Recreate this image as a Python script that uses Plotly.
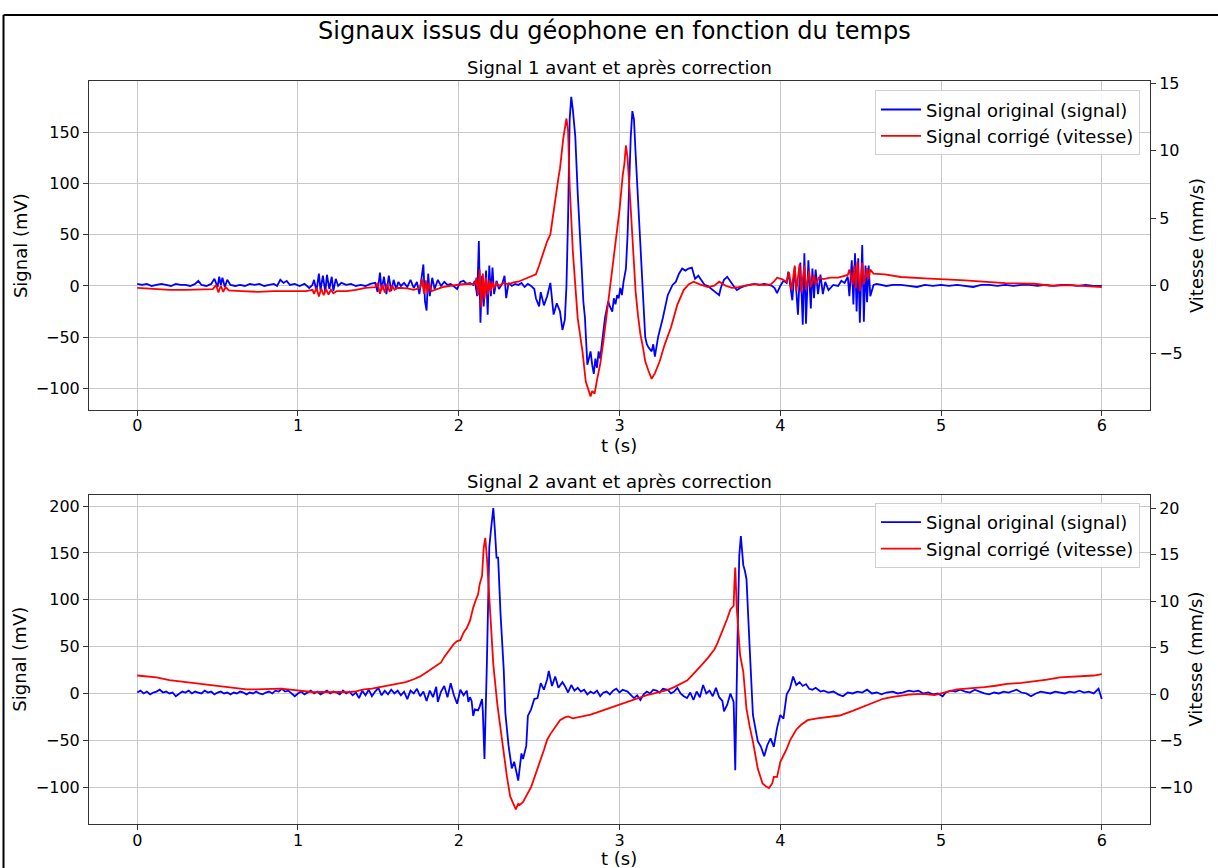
import plotly.graph_objects as go

# ---------------- Signal 1 ----------------
T_S1_SIGNAL = [
    0.00, 0.03, 0.06, 0.09, 0.12, 0.15, 0.18, 0.21, 0.24, 0.27,
    0.30, 0.33, 0.36, 0.38, 0.40, 0.43, 0.46, 0.48, 0.50, 0.51,
    0.52, 0.53, 0.545, 0.56, 0.58, 0.61, 0.64, 0.67, 0.70, 0.73,
    0.76, 0.79, 0.82, 0.85, 0.87, 0.89, 0.91, 0.93, 0.95, 0.98,
    1.01, 1.04, 1.07, 1.09, 1.10, 1.115, 1.13, 1.14, 1.155, 1.17,
    1.18, 1.195, 1.21, 1.22, 1.235, 1.25, 1.27, 1.30, 1.33, 1.36,
    1.39, 1.42, 1.45, 1.48, 1.495, 1.51, 1.52, 1.535, 1.55, 1.565,
    1.58, 1.595, 1.61, 1.625, 1.64, 1.66, 1.68, 1.70, 1.72, 1.74,
    1.755, 1.77, 1.78, 1.79, 1.80, 1.81, 1.82, 1.835, 1.85, 1.87,
    1.89, 1.91, 1.93, 1.95, 1.97, 1.99, 2.01, 2.03, 2.05, 2.07,
    2.09, 2.10, 2.115, 2.125, 2.135, 2.145, 2.155, 2.17, 2.18, 2.19,
    2.20, 2.21, 2.22, 2.235, 2.25, 2.27, 2.285, 2.295, 2.31, 2.33,
    2.35, 2.37, 2.39, 2.41, 2.43, 2.45, 2.47, 2.48, 2.50, 2.51,
    2.53, 2.55, 2.57, 2.59, 2.61, 2.63, 2.645, 2.66, 2.67, 2.68,
    2.69, 2.70, 2.71, 2.725, 2.74, 2.75, 2.765, 2.775, 2.785, 2.80,
    2.81, 2.82, 2.83, 2.84, 2.85, 2.86, 2.87, 2.88, 2.89, 2.91,
    2.93, 2.94, 2.955, 2.965, 2.975, 2.985, 2.995, 3.005, 3.015, 3.025,
    3.04, 3.05, 3.06, 3.07, 3.08, 3.09, 3.10, 3.11, 3.12, 3.135,
    3.14, 3.15, 3.16, 3.17, 3.18, 3.20, 3.21, 3.22, 3.23, 3.24,
    3.27, 3.29, 3.30, 3.33, 3.35, 3.37, 3.39, 3.41, 3.43, 3.45,
    3.46, 3.47, 3.49, 3.51, 3.53, 3.55, 3.58, 3.60, 3.62, 3.63,
    3.65, 3.67, 3.69, 3.71, 3.73, 3.75, 3.78, 3.81, 3.84, 3.87,
    3.90, 3.93, 3.95, 3.965, 3.98, 4.00, 4.02, 4.04, 4.05, 4.075,
    4.09, 4.11, 4.125, 4.14, 4.15, 4.16, 4.175, 4.19, 4.20, 4.21,
    4.22, 4.235, 4.25, 4.265, 4.28, 4.30, 4.33, 4.36, 4.38, 4.40,
    4.42, 4.43, 4.445, 4.455, 4.465, 4.475, 4.485, 4.495, 4.51, 4.52,
    4.53, 4.54, 4.55, 4.56, 4.58, 4.60, 4.63, 4.66, 4.70, 4.75,
    4.80, 4.85, 4.90, 4.95, 5.00, 5.05, 5.10, 5.15, 5.20, 5.25,
    5.30, 5.35, 5.40, 5.45, 5.50, 5.55, 5.60, 5.65, 5.70, 5.75,
    5.80, 5.85, 5.90, 5.95, 6.00,
]
S1_SIGNAL = [
    2, 1, 2, 0, 1, 2, 1, 0, 2, 1,
    1, 0, 2, 5, 1, 0, 2, 7, -1, 9,
    1, 8, -1, 6, 1, 0, 1, 0, 2, 1,
    2, 0, 1, 2, 0, 6, 3, 5, 1, 2,
    0, 2, -2, 1, 6, -5, 12, -4, 10, -6,
    11, -3, 9, -5, 7, 0, 3, 1, 2, 0,
    1, 0, 2, 3, -6, 13, -4, 9, -8, 10,
    -5, 6, -3, 4, 0, 3, -1, 6, -2, 4,
    -8, 10, 21, -15, -24, 12, -10, 8, -3, 6,
    0, 4, 1, 2, -1, -3, 4, 5, 2, 3,
    1, 5, -10, 44, -36, 10, -20, 15, -28, 20,
    -10, 18, -8, 5, -3, 2, 10, -12, 3, 0,
    2, 1, 3, -1, 2, 0, -3, -12, -20, -6,
    -19, -10, 3, -28, -17, -25, -43, -33, 0, 66,
    163, 185, 172, 146, 91, 66, 17, -15, -31, -77,
    -71, -64, -77, -86, -71, -80, -64, -71, -57, -31,
    -15, -20, -25, -12, -18, -9, -12, -2, -9, 4,
    17, 49, 98, 146, 171, 163, 130, 98, 72, 20,
    1, -31, -50, -57, -60, -64, -57, -69, -60, -50,
    -31, -18, -9, 1, 4, 12, 17, 15, 17, 18,
    12, 7, 10, 5, 1, 0, -4, -7, -9, -2,
    6, 9, 4, 0, -4, -2, 0, 1, 2, 1,
    2, 1, 0, -2, -7, 0, 5, 3, 14, -14,
    18, -28, 23, -38, 32, -37, 25, -22, 17, -12,
    16, -8, 11, -8, 4, -4, 1, 0, 5, 3,
    9, -10, 25, -18, 32, -25, 27, -36, 40, -35,
    20, -16, 20, -10, 1, 2, 1, 0, 1, 1,
    0, -1, 1, 0, 1, 0, 1, 0, -1, 1,
    1, 0, 1, 0, 1, 1, 0, 1, 0, 1,
    1, 0, 1, 0, 0,
]

T_S1_VITESSE = [
    0.00, 0.10, 0.20, 0.30, 0.40, 0.47, 0.49, 0.505, 0.52, 0.535,
    0.55, 0.57, 0.65, 0.75, 0.85, 0.95, 1.05, 1.09, 1.10, 1.115,
    1.13, 1.145, 1.16, 1.175, 1.19, 1.205, 1.22, 1.24, 1.30, 1.36,
    1.42, 1.48, 1.495, 1.51, 1.525, 1.54, 1.555, 1.57, 1.585, 1.60,
    1.62, 1.68, 1.72, 1.76, 1.77, 1.785, 1.795, 1.805, 1.815, 1.83,
    1.85, 1.90, 1.95, 2.00, 2.05, 2.10, 2.11, 2.12, 2.13, 2.14,
    2.15, 2.16, 2.17, 2.18, 2.19, 2.20, 2.21, 2.22, 2.235, 2.25,
    2.28, 2.31, 2.34, 2.37, 2.40, 2.43, 2.46, 2.48, 2.50, 2.53,
    2.55, 2.57, 2.59, 2.60, 2.62, 2.63, 2.65, 2.67, 2.68, 2.69,
    2.71, 2.74, 2.77, 2.79, 2.81, 2.82, 2.83, 2.845, 2.86, 2.88,
    2.90, 2.92, 2.94, 2.965, 2.99, 3.00, 3.02, 3.03, 3.04, 3.05,
    3.07, 3.085, 3.10, 3.115, 3.13, 3.145, 3.16, 3.18, 3.20, 3.22,
    3.25, 3.28, 3.32, 3.36, 3.40, 3.43, 3.46, 3.50, 3.55, 3.59,
    3.62, 3.66, 3.70, 3.74, 3.78, 3.82, 3.86, 3.90, 3.94, 3.96,
    3.98, 4.01, 4.04, 4.055, 4.07, 4.09, 4.10, 4.12, 4.13, 4.15,
    4.16, 4.18, 4.19, 4.21, 4.22, 4.24, 4.27, 4.31, 4.36, 4.42,
    4.43, 4.45, 4.46, 4.47, 4.48, 4.495, 4.51, 4.52, 4.54, 4.55,
    4.56, 4.58, 4.65, 4.75, 4.90, 5.02, 5.15, 5.26, 5.40, 5.58,
    5.68, 5.80, 5.90, 6.00,
]
S1_VITESSE = [
    -0.15, -0.25, -0.3, -0.3, -0.3, -0.25, 0.05, -0.5, 0.0, -0.45,
    -0.1, -0.35, -0.4, -0.45, -0.4, -0.4, -0.4, -0.3, -0.6, -0.15,
    -0.8, -0.2, -0.7, -0.25, -0.65, -0.3, -0.55, -0.4, -0.4, -0.3,
    -0.15, -0.1, 0.2, -0.6, 0.1, -0.5, 0.15, -0.45, 0.0, -0.3,
    -0.15, -0.2, -0.3, -0.15, 0.5, -0.6, 0.4, -0.55, 0.2, -0.4,
    -0.3, -0.1, 0.0, 0.1, 0.15, 0.1, 0.6, -0.7, 1.2, -1.6,
    0.9, -1.0, 0.6, -0.7, 0.4, -0.4, 0.3, -0.2, 0.2, 0.0,
    0.2, 0.1, 0.25, 0.3, 0.45, 0.6, 0.7, 0.85, 1.5, 2.5,
    3.3, 3.8, 5.5, 6.7, 8.0, 8.7, 10.9, 12.4, 11.5, 7.4,
    2.5, -2.4, -4.9, -7.1, -7.8, -8.2, -7.8, -8.0, -7.0, -5.8,
    -4.1, -2.2, -0.15, 2.3, 4.5, 5.6, 8.2, 9.0, 10.4, 9.5,
    5.7, 2.5, -0.4, -2.2, -3.6, -4.5, -5.6, -6.3, -6.9, -6.5,
    -5.6, -4.4, -3.1, -1.4, -0.3, 0.1, 0.3, 0.1, -0.1, 0.0,
    0.3, 0.0, -0.15, -0.1, 0.0, 0.1, 0.1, 0.05, 0.1, 0.3,
    0.6, 0.5, 0.3, 1.0, -0.3, 1.5, -0.4, 1.6, -0.5, 1.5,
    -0.3, 1.1, -0.1, 0.8, 0.1, 0.6, 0.5, 0.6, 0.6, 0.8,
    1.2, 0.1, 1.5, -0.2, 1.8, -0.4, 1.7, 0.1, 1.3, 0.5,
    1.2, 0.9, 0.85, 0.65, 0.55, 0.5, 0.4, 0.3, 0.2, 0.15,
    0.0, 0.05, -0.05, -0.1,
]

# ---------------- Signal 2 ----------------
T_S2_SIGNAL = [
    0.00, 0.02, 0.04, 0.06, 0.08, 0.10, 0.12, 0.14, 0.16, 0.18,
    0.20, 0.22, 0.24, 0.26, 0.28, 0.30, 0.32, 0.34, 0.36, 0.38,
    0.40, 0.42, 0.44, 0.46, 0.48, 0.50, 0.52, 0.54, 0.56, 0.58,
    0.60, 0.62, 0.64, 0.66, 0.68, 0.70, 0.72, 0.74, 0.76, 0.78,
    0.80, 0.82, 0.84, 0.86, 0.88, 0.90, 0.92, 0.94, 0.96, 0.98,
    1.00, 1.02, 1.04, 1.06, 1.08, 1.10, 1.12, 1.14, 1.16, 1.18,
    1.20, 1.22, 1.24, 1.26, 1.28, 1.30, 1.32, 1.34, 1.36, 1.38,
    1.40, 1.42, 1.44, 1.46, 1.48, 1.50, 1.52, 1.54, 1.56, 1.58,
    1.60, 1.62, 1.64, 1.66, 1.68, 1.70, 1.72, 1.74, 1.76, 1.78,
    1.80, 1.82, 1.84, 1.86, 1.87, 1.89, 1.91, 1.93, 1.95, 1.97,
    1.99, 2.01, 2.03, 2.05, 2.06, 2.07, 2.08, 2.09, 2.10, 2.12,
    2.13, 2.145, 2.15, 2.16, 2.175, 2.19, 2.20, 2.215, 2.225, 2.235,
    2.245, 2.26, 2.28, 2.29, 2.31, 2.32, 2.33, 2.345, 2.36, 2.37,
    2.39, 2.40, 2.42, 2.43, 2.45, 2.47, 2.49, 2.51, 2.53, 2.55,
    2.56, 2.58, 2.60, 2.62, 2.645, 2.66, 2.68, 2.70, 2.72, 2.74,
    2.76, 2.78, 2.80, 2.82, 2.84, 2.86, 2.88, 2.90, 2.92, 2.94,
    2.96, 2.98, 3.00, 3.02, 3.05, 3.07, 3.09, 3.11, 3.13, 3.15,
    3.17, 3.19, 3.21, 3.23, 3.25, 3.27, 3.30, 3.32, 3.34, 3.36,
    3.38, 3.40, 3.42, 3.44, 3.46, 3.48, 3.50, 3.52, 3.54, 3.56,
    3.58, 3.60, 3.62, 3.64, 3.65, 3.67, 3.69, 3.71, 3.72, 3.735,
    3.745, 3.755, 3.77, 3.78, 3.79, 3.81, 3.83, 3.86, 3.88, 3.90,
    3.92, 3.94, 3.96, 3.98, 4.00, 4.02, 4.04, 4.06, 4.08, 4.10,
    4.12, 4.14, 4.16, 4.18, 4.20, 4.22, 4.25, 4.27, 4.30, 4.33,
    4.36, 4.39, 4.42, 4.45, 4.48, 4.51, 4.54, 4.57, 4.60, 4.63,
    4.66, 4.70, 4.73, 4.76, 4.80, 4.83, 4.86, 4.89, 4.92, 4.95,
    4.98, 5.01, 5.03, 5.06, 5.09, 5.12, 5.15, 5.18, 5.21, 5.24,
    5.27, 5.30, 5.33, 5.36, 5.39, 5.42, 5.45, 5.47, 5.50, 5.53,
    5.56, 5.59, 5.62, 5.65, 5.68, 5.71, 5.74, 5.77, 5.80, 5.83,
    5.86, 5.89, 5.92, 5.95, 5.98, 6.00,
]
S2_SIGNAL = [
    1, 3, 0, 2, -1, 1, 2, 4, 1, 2,
    0, 1, -3, 0, 2, 1, 3, 0, 2, 1,
    0, 3, 1, 2, -1, 1, 2, 0, 1, -1,
    1, 0, 2, 1, -1, 1, 0, 2, 0, -1,
    1, 2, 0, 3, 2, 5, 2, 3, 0, -3,
    0, 2, -1, 1, 3, 0, 2, -1, 1, 3,
    0, 2, 1, -1, 3, 0, 2, -2, 1, -5,
    3, -2, 4, -3, 2, 6, -2, 3, -1, 4,
    0, 3, -2, 2, -6, 3, 0, 5, -3, 2,
    -8, 3, -4, 7, -9, 2, 8, -4, 11, -2,
    -11, 4, -2, 3, -9, -4, -8, -24, -17, -18,
    -14, -6, -20, -70, 32, 156, 174, 198, 174, 145,
    145, 85, 25, -21, -56, -70, -80, -73, -85, -93,
    -64, -70, -56, -24, -17, -6, -5, 11, 4, 15,
    24, 8, 18, 6, 12, 8, 1, 9, 3, 6,
    2, 4, -1, 2, 0, 3, -3, 1, 2, -1,
    3, 5, 1, 4, 2, -2, -5, -2, -7, -1,
    2, 0, 4, 3, 1, 5, 4, 0, 2, 6,
    0, -3, -5, 1, -7, 2, -4, 9, 0, 3,
    -3, 6, -4, -8, -19, -12, 0, -9, -82, 66,
    147, 168, 137, 131, 122, 48, -23, -51, -57, -67,
    -55, -48, -57, -37, -23, -27, -1, 5, 18, 9,
    12, 8, 10, 5, 4, 6, 2, 3, 1, 2,
    -1, -3, 1, 0, 2, 1, 4, 0, 1, -1,
    1, 2, 0, 1, 3, 2, 3, 0, 1, -1,
    0, -3, 1, 3, 2, 4, 2, 1, 4, 2,
    0, -1, 1, 0, 2, 1, 3, 4, 1, 0,
    -3, 0, 2, 1, 0, 2, 1, 0, 2, 1,
    3, 1, 2, 0, 5, -6,
]

T_S2_VITESSE = [
    0.00, 0.06, 0.12, 0.20, 0.27, 0.33, 0.40, 0.47, 0.53, 0.58,
    0.63, 0.68, 0.74, 0.79, 0.84, 0.89, 0.94, 0.99, 1.05, 1.10,
    1.15, 1.20, 1.26, 1.31, 1.36, 1.41, 1.46, 1.51, 1.56, 1.62,
    1.67, 1.72, 1.76, 1.80, 1.83, 1.86, 1.89, 1.91, 1.93, 1.95,
    1.97, 1.99, 2.01, 2.03, 2.05, 2.07, 2.09, 2.11, 2.12, 2.13,
    2.145, 2.155, 2.165, 2.175, 2.185, 2.195, 2.205, 2.215, 2.24, 2.26,
    2.28, 2.30, 2.32, 2.34, 2.355, 2.37, 2.38, 2.40, 2.43, 2.45,
    2.47, 2.49, 2.51, 2.53, 2.55, 2.57, 2.59, 2.61, 2.63, 2.66,
    2.68, 2.71, 2.74, 2.78, 2.82, 2.87, 2.92, 2.96, 3.00, 3.05,
    3.09, 3.13, 3.17, 3.21, 3.25, 3.30, 3.34, 3.38, 3.42, 3.45,
    3.49, 3.52, 3.55, 3.57, 3.59, 3.61, 3.63, 3.65, 3.67, 3.69,
    3.71, 3.715, 3.72, 3.73, 3.75, 3.77, 3.79, 3.81, 3.83, 3.86,
    3.89, 3.91, 3.93, 3.95, 3.96, 3.98, 4.00, 4.02, 4.04, 4.06,
    4.08, 4.10, 4.13, 4.17, 4.23, 4.29, 4.37, 4.45, 4.54, 4.60,
    4.64, 4.70, 4.75, 4.80, 4.85, 4.90, 4.96, 5.02, 5.06, 5.10,
    5.18, 5.27, 5.34, 5.41, 5.50, 5.58, 5.66, 5.74, 5.81, 5.89,
    5.95, 6.00,
]
S2_VITESSE = [
    2.0, 1.9, 1.8, 1.5, 1.35, 1.3, 1.1, 1.0, 0.85, 0.75,
    0.6, 0.5, 0.5, 0.55, 0.6, 0.6, 0.5, 0.4, 0.3, 0.2,
    0.25, 0.2, 0.25, 0.2, 0.3, 0.5, 0.6, 0.75, 0.9, 1.1,
    1.3, 1.6, 1.9, 2.35, 2.7, 3.1, 3.4, 4.0, 4.5, 5.0,
    5.4, 5.7, 5.8, 6.6, 7.1, 7.9, 9.3, 10.3, 10.7, 11.8,
    12.7, 15.7, 16.8, 14.7, 11.5, 8.6, 6.0, 3.2, -1.1, -3.9,
    -6.4, -8.9, -11.0, -11.8, -12.4, -11.8, -11.9, -11.6, -10.7, -10.0,
    -9.0, -8.1, -7.0, -6.0, -4.9, -4.3, -3.8, -3.2, -2.8, -2.5,
    -2.4, -2.6, -2.5, -2.4, -2.2, -1.9, -1.6, -1.4, -1.2, -0.9,
    -0.65, -0.4, -0.1, 0.05, 0.2, 0.45, 0.75, 1.1, 1.45, 2.0,
    2.7, 3.3, 3.9, 4.3, 4.8, 5.5, 6.3, 7.2, 8.1, 9.1,
    9.5, 12.0, 13.6, 9.1, 4.2, 2.4, -1.6, -3.5, -5.1, -8.0,
    -9.6, -9.9, -10.1, -9.6, -8.9, -8.9, -7.3, -6.6, -5.9, -5.0,
    -4.4, -3.8, -3.3, -2.8, -2.6, -2.5, -2.3, -1.8, -1.2, -0.8,
    -0.5, -0.3, -0.15, -0.05, 0.0, 0.0, -0.1, 0.2, 0.35, 0.5,
    0.6, 0.75, 0.9, 1.1, 1.2, 1.35, 1.55, 1.8, 1.85, 1.9,
    2.0, 2.15,
]

X_TICKS = [0, 1, 2, 3, 4, 5, 6]
S1_MV_TICKS = [-100, -50, 0, 50, 100, 150]
S1_VIT_TICKS = [-5, 0, 5, 10, 15]
S2_MV_TICKS = [-100, -50, 0, 50, 100, 150, 200]
S2_VIT_TICKS = [-10, -5, 0, 5, 10, 15, 20]

TITLE = "Signaux issus du géophone en fonction du temps"
SUB1 = "Signal 1 avant et après correction"
SUB2 = "Signal 2 avant et après correction"
LBL_SIG = "Signal original (signal)"
LBL_VIT = "Signal corrigé (vitesse)"

assert len(T_S1_SIGNAL) == len(S1_SIGNAL)
assert len(T_S1_VITESSE) == len(S1_VITESSE)
assert len(T_S2_SIGNAL) == len(S2_SIGNAL)
assert len(T_S2_VITESSE) == len(S2_VITESSE)

W, H = 1218, 868
FONT = "DejaVu Sans"
BLUE = "#0000ff"
RED = "#ff0000"
LW = 1.8

def px(x):
    return x / W

def py(y):
    return 1 - y / H

fig = go.Figure()
fig.add_trace(go.Scatter(x=T_S1_SIGNAL, y=S1_SIGNAL, mode="lines", name=LBL_SIG,
                         line=dict(color=BLUE, width=LW), xaxis="x", yaxis="y", legend="legend"))
fig.add_trace(go.Scatter(x=T_S1_VITESSE, y=S1_VITESSE, mode="lines", name=LBL_VIT,
                         line=dict(color=RED, width=LW), xaxis="x", yaxis="y2", legend="legend"))
fig.add_trace(go.Scatter(x=T_S2_SIGNAL, y=S2_SIGNAL, mode="lines", name=LBL_SIG,
                         line=dict(color=BLUE, width=LW), xaxis="x2", yaxis="y3", legend="legend2"))
fig.add_trace(go.Scatter(x=T_S2_VITESSE, y=S2_VITESSE, mode="lines", name=LBL_VIT,
                         line=dict(color=RED, width=LW), xaxis="x2", yaxis="y4", legend="legend2"))

axis_common = dict(showline=True, linecolor="#333333", linewidth=1, ticks="outside",
                   ticklen=5, tickcolor="#333333", tickfont=dict(size=16, color="black"),
                   zeroline=False)
grid = dict(showgrid=True, gridcolor="#c8c8c8", gridwidth=1)
xdom = [px(89), px(1150)]
top_dom = [py(406), py(75)]
bot_dom = [py(824), py(492)]

fig.update_layout(
    width=W, height=H,
    margin=dict(l=0, r=0, t=0, b=0),
    paper_bgcolor="white", plot_bgcolor="white",
    font=dict(family=FONT, color="black"),
    xaxis=dict(domain=xdom, anchor="y", range=[-0.3, 6.3], tickvals=X_TICKS,
               mirror=True, ticklabelstandoff=-4, **axis_common, **grid),
    yaxis=dict(domain=top_dom, anchor="x", range=[-121, 200], tickvals=S1_MV_TICKS,
               **axis_common, **grid),
    yaxis2=dict(overlaying="y", side="right", anchor="x", range=[-9.19, 15.15],
                tickvals=S1_VIT_TICKS, showgrid=False, **axis_common),
    xaxis2=dict(domain=xdom, anchor="y3", range=[-0.3, 6.3], tickvals=X_TICKS,
                mirror=True, ticklabelstandoff=-4, **axis_common, **grid),
    yaxis3=dict(domain=bot_dom, anchor="x2", range=[-139.8, 211.9], tickvals=S2_MV_TICKS,
                **axis_common, **grid),
    yaxis4=dict(overlaying="y3", side="right", anchor="x2", range=[-14.0, 21.4],
                tickvals=S2_VIT_TICKS, showgrid=False, **axis_common),
    legend=dict(x=px(1140), y=py(84), xanchor="right", yanchor="top",
                bgcolor="rgba(255,255,255,0.85)", bordercolor="#d0d0d0", borderwidth=1,
                font=dict(size=18, family=FONT), itemwidth=40, tracegroupgap=0),
    legend2=dict(x=px(1140), y=py(500), xanchor="right", yanchor="top",
                 bgcolor="rgba(255,255,255,0.85)", bordercolor="#d0d0d0", borderwidth=1,
                 font=dict(size=18, family=FONT), itemwidth=40, tracegroupgap=0),
    showlegend=True,
)

ann = []
def add_text(text, x, y, size, angle=0):
    ann.append(dict(text=text, x=px(x), y=py(y), xref="paper", yref="paper",
                    xanchor="center", yanchor="middle", showarrow=False,
                    textangle=angle, font=dict(size=size, family=FONT, color="black")))

add_text(TITLE, 614, 24, 24)
add_text(SUB1, 619, 61, 18)
add_text(SUB2, 619, 478, 18)
add_text("t (s)", 619, 442, 18)
add_text("t (s)", 619, 858, 18)
add_text("Signal (mV)", 20, 241, 18, -90)
add_text("Signal (mV)", 20, 658, 18, -90)
add_text("Vitesse (mm/s)", 1196, 241, 18, -90)
add_text("Vitesse (mm/s)", 1196, 658, 18, -90)
fig.update_layout(annotations=ann)

fig.update_layout(shapes=[
    dict(type="line", xref="paper", yref="paper", x0=px(3.5), x1=px(3.5), y0=0, y1=py(8),
         line=dict(color="black", width=2)),
    dict(type="line", xref="paper", yref="paper", x0=px(3.5), x1=1, y0=py(8), y1=py(8),
         line=dict(color="black", width=2)),
])

fig.write_html(
    "out.html",
    config={"displayModeBar": False},
    post_script="document.body.style.margin='0';document.body.style.padding='0';"
                "document.body.style.overflow='hidden';"
                "document.documentElement.style.overflow='hidden';",
)
